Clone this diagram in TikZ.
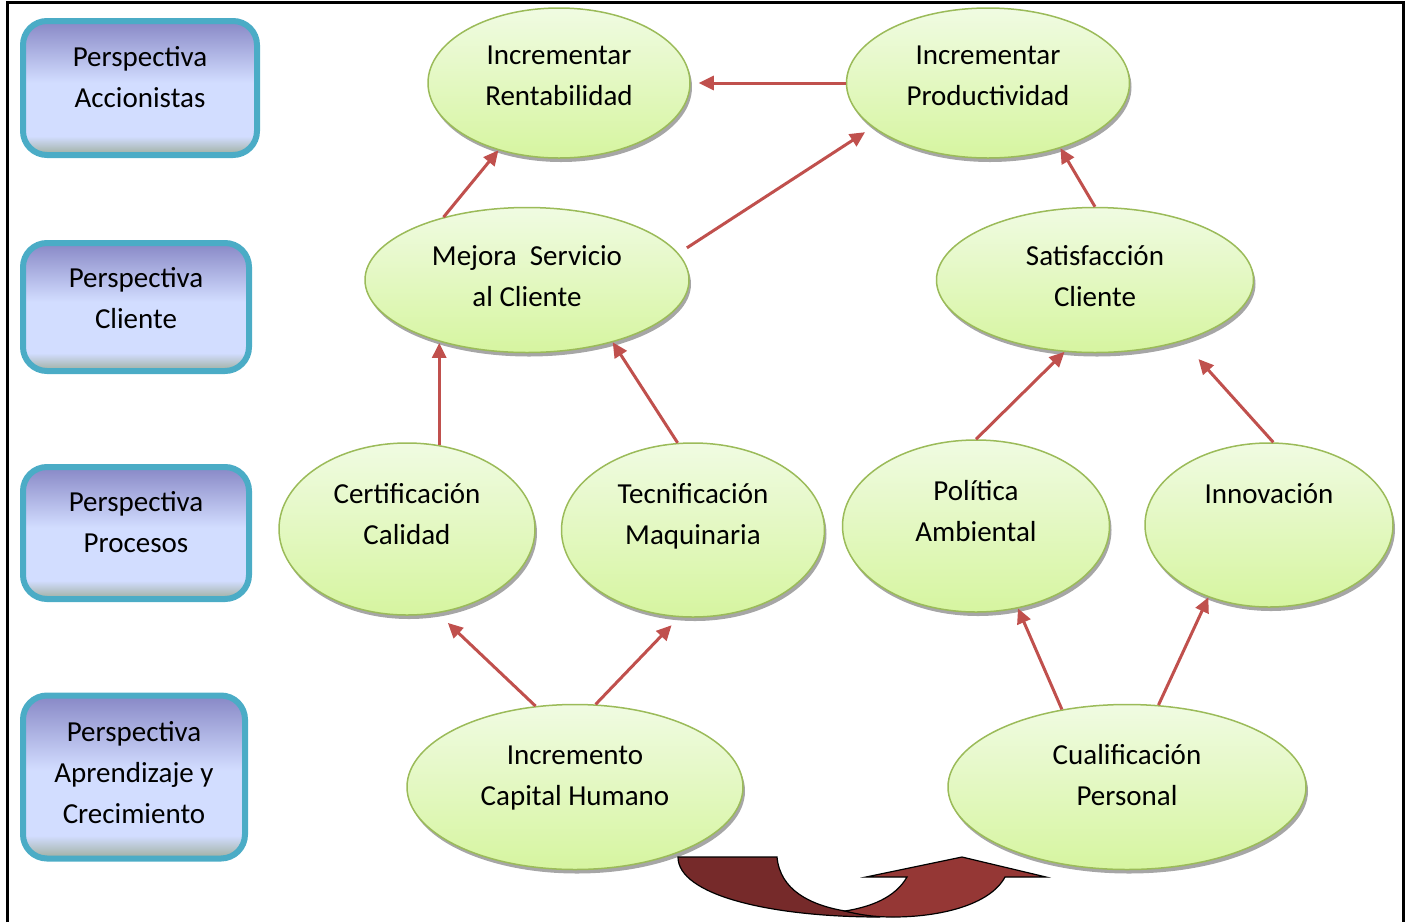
\documentclass[tikz,border=0pt]{standalone}
\usepackage{fontspec}
\setmainfont{Carlito}
\usetikzlibrary{shapes.geometric,arrows.meta,shadows}
\definecolor{ovborder}{HTML}{9BBB59}
\definecolor{ovtop}{HTML}{F0FBE2}
\definecolor{ovbot}{HTML}{D6F5A0}
\definecolor{boxborder}{HTML}{4BACC6}
\definecolor{boxtop}{RGB}{136,136,198}
\definecolor{boxmid}{RGB}{210,221,255}
\definecolor{boxbot}{RGB}{158,174,158}
\definecolor{arr}{HTML}{C0504D}
\definecolor{uleft}{RGB}{118,42,42}
\definecolor{uright}{RGB}{149,55,53}
\pgfdeclareverticalshading{perspshade}{100bp}{color(0bp)=(boxbot); color(25bp)=(boxbot); color(32bp)=(boxmid); color(52bp)=(boxmid); color(75bp)=(boxtop); color(100bp)=(boxtop)}
\begin{document}
\begin{tikzpicture}[x=1pt,y=-1pt,
    oval/.style={ellipse, draw=ovborder, line width=1.5pt, top color=ovtop, bottom color=ovbot, inner sep=0pt,
      drop shadow={shadow xshift=2pt, shadow yshift=-4pt, fill=black!35, opacity=1}},
    perspbox/.style={rectangle, rounded corners=24pt, draw=boxborder, line width=6pt, shading=perspshade, inner sep=0pt},
    txt/.style={align=center, font=\fontsize{29}{41}\selectfont},
    link/.style={draw=arr, line width=3pt, -{Triangle[length=15pt,width=14pt]}}]
    \useasboundingbox (0,0) rectangle (1409,922);
    \draw[line width=3pt] (7,922) -- (7,2) -- (1403,2) -- (1403,922);

    % perspectivas
    \foreach \nm/\x/\y/\w/\h/\ty/\lbl in {acc/140/88/234/134/77/{Perspectiva\\Accionistas},
        cli/136/307/226/128/298/{Perspectiva\\Cliente},
        pro/136/533/226/132/522/{Perspectiva\\Procesos},
        apr/134/777/222/163/773/{Perspectiva\\Aprendizaje y\\Crecimiento}}
    {
      \node[perspbox, minimum width=\w pt, minimum height=\h pt] (\nm) at (\x,\y) {};
      \node[txt] (\nm-t) at (\x,\ty) {\lbl};
    }

    % objetivos
    \node[oval, minimum width=262pt, minimum height=150pt] (rent) at (559,83) {};
    \node[txt] (rent-t) at (559,76) {Incrementar\\Rentabilidad};
    \node[oval, minimum width=283pt, minimum height=150pt] (prod) at (988,83) {};
    \node[txt] (prod-t) at (988,76) {Incrementar\\Productividad};
    \node[oval, minimum width=324pt, minimum height=145pt] (mejora) at (527,280) {};
    \node[txt] (mejora-t) at (527,276) {Mejora\ \ Servicio\\al Cliente};
    \node[oval, minimum width=317pt, minimum height=145pt] (satis) at (1095,280) {};
    \node[txt] (satis-t) at (1095,276) {Satisfacción\\Cliente};
    \node[oval, minimum width=256pt, minimum height=172pt] (cert) at (407,529) {};
    \node[txt] (cert-t) at (407,514) {Certificación\\Calidad};
    \node[oval, minimum width=263pt, minimum height=174pt] (tecn) at (693,530) {};
    \node[txt] (tecn-t) at (693,516) {Tecnificación\\Maquinaria};
    \node[oval, minimum width=267pt, minimum height=172pt] (pol) at (976,526) {};
    \node[txt] (pol-t) at (976,511) {Política\\Ambiental};
    \node[oval, minimum width=248pt, minimum height=164pt] (innov) at (1269,525) {};
    \node[txt] (innov-t) at (1269,494) {Innovación};
    \node[oval, minimum width=336pt, minimum height=165pt] (incr) at (575,787) {};
    \node[txt] (incr-t) at (575,778) {Incremento\\Capital Humano};
    \node[oval, minimum width=358pt, minimum height=165pt] (cual) at (1127,787) {};
    \node[txt] (cual-t) at (1127,775) {Cualificación\\Personal};

    % relaciones
    \draw[link, shorten >=8pt] (prod.west) -- (rent.east);
    \draw[link] (mejora.143) -- (rent.228);
    \draw[link, shorten <=10pt, shorten >=9pt] (mejora.10) -- (prod.201);
    \draw[link] (satis.north) -- (prod.318);
    \draw[link] (cert.69) -- (cert.69 |- mejora.217);
    \draw[link] (tecn.100) -- (mejora.324);
    \draw[link] (pol.north) -- (satis.247);
    \draw[link, shorten >=24pt] (innov.87) -- (satis.325);
    \draw[link, shorten >=14pt] (incr.116) -- (cert.290);
    \draw[link, shorten >=11pt] (incr.76) -- (tecn.261);
    \draw[link] (cual.130) -- (pol.297);
    \draw[link] (cual.69) -- (innov.230);

    % flecha en U
    \filldraw[fill=uleft, line width=1.2pt] (678,857) -- (777,857)
      .. controls (780,890) and (810,905) .. (845,911) -- (880,917)
      .. controls (770,917) and (678,895) .. (678,857) -- cycle;
    \filldraw[fill=uright, line width=1.2pt] (845,911)
      .. controls (870,907) and (895,898) .. (907,877) -- (866,877) -- (962,857) -- (1046,877) -- (1005,877)
      .. controls (990,905) and (940,917) .. (893,917)
      .. controls (875,917) and (860,915) .. (845,911) -- cycle;
\end{tikzpicture}
\end{document}
